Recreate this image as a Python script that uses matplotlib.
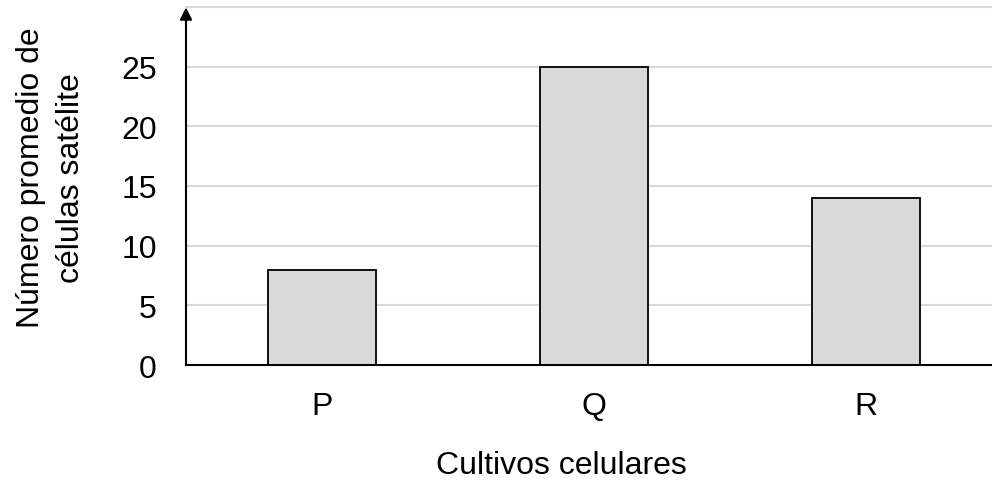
import matplotlib
matplotlib.use("Agg")
import matplotlib.pyplot as plt

categories = ["P", "Q", "R"]
values = [8, 25, 14]
yticks = [0, 5, 10, 15, 20, 25]

plt.rcParams['font.family'] = ['Liberation Sans', 'DejaVu Sans']

fig = plt.figure(figsize=(9.92, 4.81), dpi=100)
ax = fig.add_axes([186/992, 1-366/481, 816/992, (366-8)/481])
ax.set_xlim(-0.5, 2.5)
ax.set_ylim(0, 30)
ax.set_axisbelow(True)
for g in [5, 10, 15, 20, 25, 30]:
    ax.axhline(g, color='#d9d9d9', lw=1.5, zorder=0, clip_on=False)
x = range(len(categories))
ax.bar(x, values, width=0.4, color='#d9d9d9', edgecolor='black', linewidth=1.3, zorder=2)
ax.set_xticks(list(x))
ax.set_xticklabels(categories)
ax.set_yticks(yticks)
ax.tick_params(axis='both', length=0, labelsize=23)
ax.tick_params(axis='x', pad=18.5)
ax.tick_params(axis='y', pad=21)
for s in ['top', 'right']:
    ax.spines[s].set_visible(False)
ax.spines['left'].set_linewidth(1.5)
ax.spines['bottom'].set_linewidth(1.5)
ax.spines['left'].set_bounds(0, 29)
ax.annotate('', xy=(-0.5, 30.2), xytext=(-0.5, 28.5), xycoords='data',
            arrowprops=dict(arrowstyle='-|>', color='black', lw=1.5, mutation_scale=18),
            annotation_clip=False)
ax.set_xlabel('Cultivos celulares', fontsize=23)
ax.xaxis.set_label_coords(0.4596, -0.238)
ax.set_ylabel('Número promedio de\ncélulas satélite', fontsize=23, linespacing=1.4)
ax.yaxis.set_label_coords(-0.123, 0.525)
fig.savefig('out.png', dpi=100)
